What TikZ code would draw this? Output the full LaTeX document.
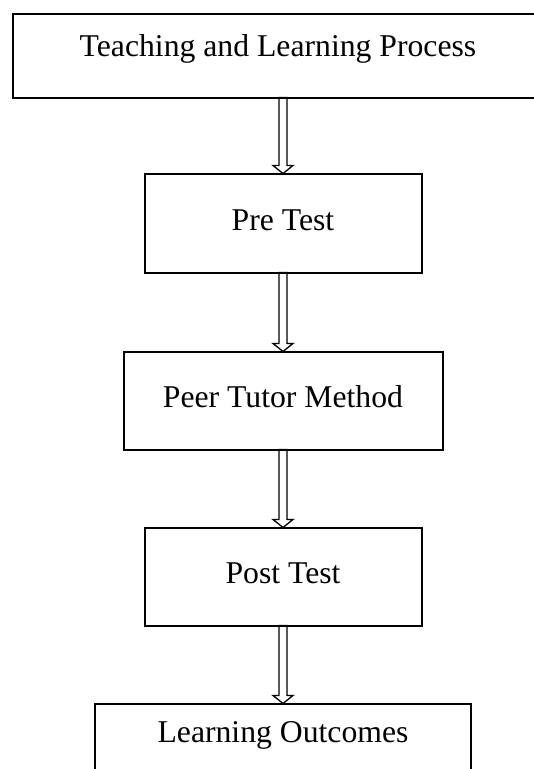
\documentclass[tikz,border=0pt]{standalone}
\usepackage{fontspec}
\setmainfont{Liberation Serif}
\usetikzlibrary{positioning,calc}
\tikzstyle{stage} = [draw, rectangle, line width=2pt, outer sep=0pt, text centered, text height=22pt, text depth=8pt, font=\fontsize{31.7pt}{38pt}\selectfont]
\tikzstyle{hollow} = [draw, line width=1.3pt, line join=miter]
% hollow block arrow from the bottom of #1 to the top of #2
\newcommand{\hollowarrow}[2]{%
  \path [hollow] ($(#2.north |- #1.south)+(-4pt,0)$) -- ($(#2.north)+(-4pt,8pt)$) -- ++(-6pt,0) -- (#2.north)
    -- ++(10pt,8pt) -- ++(-6pt,0) -- ($(#2.north |- #1.south)+(4pt,0)$) -- cycle;}

\begin{document}
\begin{tikzpicture}[node distance = 78pt]
    \useasboundingbox (0,0) rectangle (534pt,-769pt);
    \clip (0,0) rectangle (534pt,-769pt);

    % Place nodes
    \node [stage, minimum width=530pt, minimum height=84pt, text depth=21pt] (process) at (278pt,-55.5pt) {Teaching and Learning Process};
    \node [stage, minimum width=277pt, minimum height=99pt, below=76pt of process, xshift=5pt] (pre-test) {Pre Test};
    \node [stage, minimum width=319pt, minimum height=98pt, below=79pt of pre-test] (peer-tutor) {Peer Tutor Method};
    \node [stage, minimum width=277pt, minimum height=98pt, below=78pt of peer-tutor] (post-test) {Post Test};
    \node [stage, minimum width=376pt, minimum height=84pt, text depth=28pt, below=78pt of post-test] (outcomes) {Learning Outcomes};

    % Draw edges
    \hollowarrow{process}{pre-test}
    \hollowarrow{pre-test}{peer-tutor}
    \hollowarrow{peer-tutor}{post-test}
    \hollowarrow{post-test}{outcomes}
\end{tikzpicture}
\end{document}
